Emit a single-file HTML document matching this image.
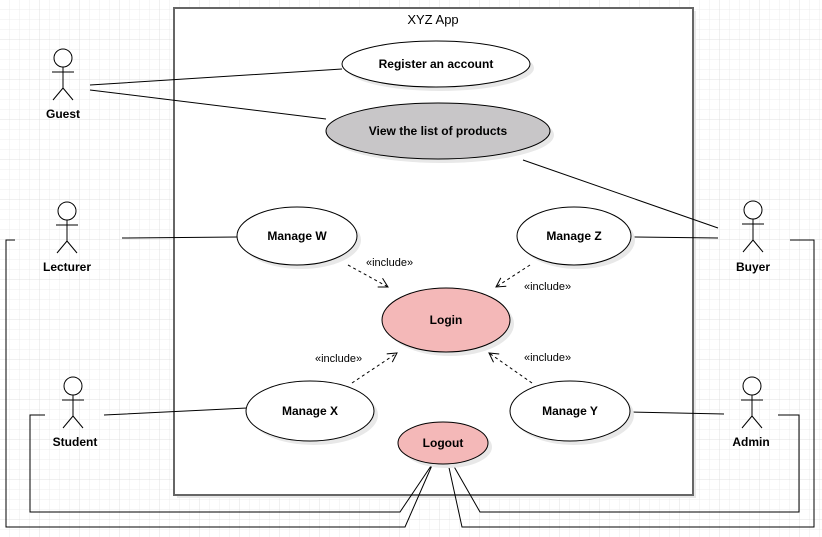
<!DOCTYPE html>
<html><head><meta charset="utf-8"><style>
html,body{margin:0;padding:0;background:#fff}
svg{display:block}
text{font-family:"Liberation Sans",sans-serif;font-size:12px;fill:#000}
</style></head><body>
<svg width="822" height="537" viewBox="0 0 822 537" xmlns="http://www.w3.org/2000/svg">
<defs>
<pattern id="g" width="10" height="10" patternUnits="userSpaceOnUse"><path d="M10 0V10H0" fill="none" stroke="#ececec" stroke-width="1"/></pattern>
<pattern id="G" width="40" height="40" patternUnits="userSpaceOnUse"><rect width="40" height="40" fill="url(#g)"/><path d="M40 0V40H0" fill="none" stroke="#e0e0e0" stroke-width="1"/></pattern>
<marker id="a" markerWidth="12" markerHeight="12" refX="10" refY="6" orient="auto" markerUnits="userSpaceOnUse"><path d="M1 1L10 6L1 11" fill="none" stroke="#000" stroke-width="1"/></marker>
</defs>
<rect width="822" height="537" fill="url(#G)"/>
<rect x="177" y="11" width="519" height="487" fill="#e8e8e8"/>
<rect x="174" y="8" width="519" height="487" fill="#fff" stroke="#666" stroke-width="2"/>
<text x="433" y="24" text-anchor="middle" style="font-size:13px">XYZ App</text>
<g fill="none" stroke="#000" stroke-width="1">
<path d="M90 85L342 69M90 90L326 119M523 160L718 228M122 238L238 237M631 237L718 238M104 415L247 408M630 412L724 414"/>
<path d="M45 415H30V512H400L433 463M15 240H6V527H405L433 463M778 415H799V512H480L452 463M790 240H814V527H462L448 463"/>
<g stroke-dasharray="3,3" marker-end="url(#a)">
<path d="M348 265L388 287"/><path d="M530 265L496 287"/><path d="M352 383L397 353"/><path d="M532 383L489 353"/>
</g>
</g>
<g stroke="#000" stroke-width="1">
<g fill="#e8e8e8" stroke="none">
<ellipse cx="440" cy="68" rx="94" ry="23"/><ellipse cx="442" cy="135" rx="112" ry="28"/><ellipse cx="301" cy="240" rx="60" ry="29"/><ellipse cx="578" cy="240" rx="57" ry="29"/><ellipse cx="450" cy="324" rx="64" ry="32"/><ellipse cx="314" cy="415" rx="64" ry="30"/><ellipse cx="574" cy="415" rx="60" ry="30"/><ellipse cx="447" cy="447" rx="45" ry="21"/>
</g>
<ellipse cx="436" cy="64" rx="94" ry="23" fill="#fff"/>
<ellipse cx="438" cy="131" rx="112" ry="28" fill="#c8c6c8"/>
<ellipse cx="297" cy="236" rx="60" ry="29" fill="#fff"/>
<ellipse cx="574" cy="236" rx="57" ry="29" fill="#fff"/>
<ellipse cx="446" cy="320" rx="64" ry="32" fill="#f4b8b8"/>
<ellipse cx="310" cy="411" rx="64" ry="30" fill="#fff"/>
<ellipse cx="570" cy="411" rx="60" ry="30" fill="#fff"/>
<ellipse cx="443" cy="443" rx="45" ry="21" fill="#f4b8b8"/>
</g>
<g text-anchor="middle">
<text x="436" y="68" font-weight="bold">Register an account</text>
<text x="438" y="135" font-weight="bold">View the list of products</text>
<text x="297" y="240" font-weight="bold">Manage W</text>
<text x="574" y="240" font-weight="bold">Manage Z</text>
<text x="446" y="324" font-weight="bold">Login</text>
<text x="310" y="415" font-weight="bold">Manage X</text>
<text x="570" y="415" font-weight="bold">Manage Y</text>
<text x="443" y="447" font-weight="bold">Logout</text>
</g>
<g>
<text x="366" y="266" style="font-size:11px">«include»</text>
<text x="524" y="290" style="font-size:11px">«include»</text>
<text x="315" y="362" style="font-size:11px">«include»</text>
<text x="524" y="361" style="font-size:11px">«include»</text>
</g>
<g fill="#fff" stroke="#000" stroke-width="1">
<g transform="translate(63,58)"><circle r="9"/><path d="M0 9V30M-11 14H11M0 30L-10 42M0 30L10 42" fill="none"/></g>
<g transform="translate(67,211)"><circle r="9"/><path d="M0 9V30M-11 14H11M0 30L-10 42M0 30L10 42" fill="none"/></g>
<g transform="translate(73,386)"><circle r="9"/><path d="M0 9V30M-11 14H11M0 30L-10 42M0 30L10 42" fill="none"/></g>
<g transform="translate(753,210)"><circle r="9"/><path d="M0 9V30M-11 14H11M0 30L-10 42M0 30L10 42" fill="none"/></g>
<g transform="translate(752,386)"><circle r="9"/><path d="M0 9V30M-11 14H11M0 30L-10 42M0 30L10 42" fill="none"/></g>
</g>
<g text-anchor="middle">
<text x="63" y="118" font-weight="bold">Guest</text>
<text x="67" y="271" font-weight="bold">Lecturer</text>
<text x="75" y="446" font-weight="bold">Student</text>
<text x="753" y="271" font-weight="bold">Buyer</text>
<text x="751" y="446" font-weight="bold">Admin</text>
</g>
</svg>
</body></html>
